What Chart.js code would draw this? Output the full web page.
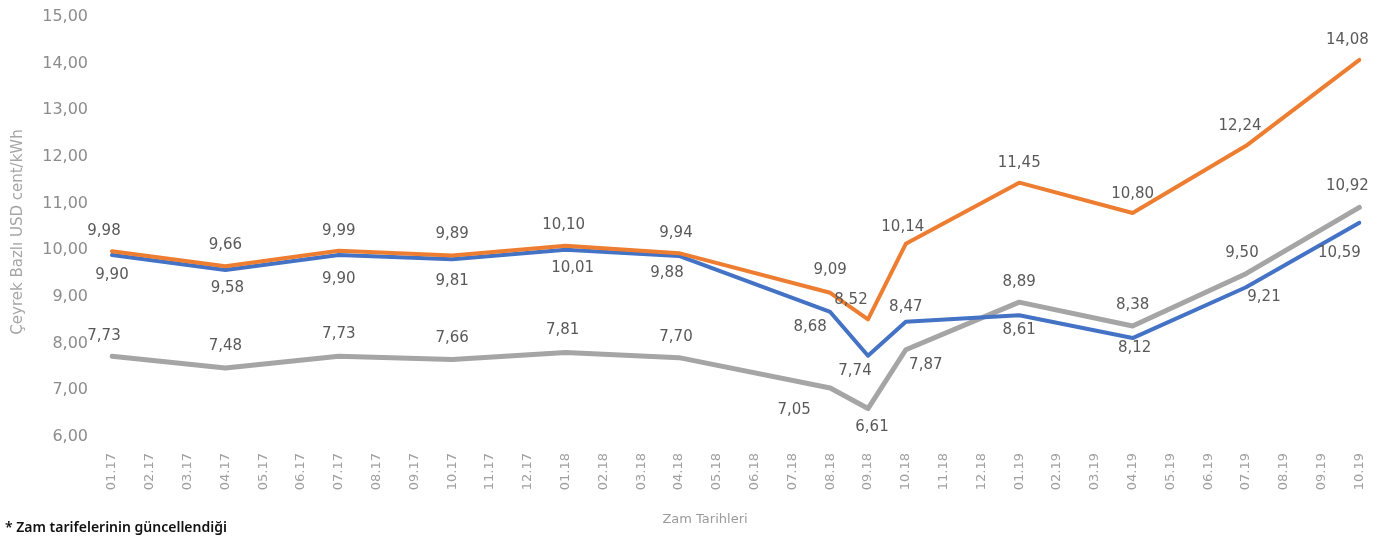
<!DOCTYPE html>
<html>
<head>
<meta charset="utf-8">
<script src="https://cdn.jsdelivr.net/npm/chart.js@4.4.1/dist/chart.umd.min.js"></script>
<style>
  body { margin: 0; background: #fff; }
</style>
</head>
<body>
<canvas id="tarife" width="1391" height="536"></canvas>
<script>
// aylar (x ekseni)
const aylar = [
  "01.17", "02.17", "03.17", "04.17", "05.17", "06.17", "07.17", "08.17", "09.17", "10.17", "11.17", "12.17",
  "01.18", "02.18", "03.18", "04.18", "05.18", "06.18", "07.18", "08.18", "09.18", "10.18", "11.18", "12.18",
  "01.19", "02.19", "03.19", "04.19", "05.19", "06.19", "07.19", "08.19", "09.19", "10.19",
];

// zam tarihleri - degerler sadece bu aylarda var
const zamTarihleri = ["01.17", "04.17", "07.17", "10.17", "01.18", "04.18", "08.18", "09.18", "10.18", "01.19", "04.19", "07.19", "10.19"];

// seriler (USD cent/kWh)
const turuncu = [9.98, 9.66, 9.99, 9.89, 10.10, 9.94, 9.09, 8.52, 10.14, 11.45, 10.80, 12.24, 14.08];
const mavi = [9.90, 9.58, 9.90, 9.81, 10.01, 9.88, 8.68, 7.74, 8.47, 8.61, 8.12, 9.21, 10.59];
const gri = [7.73, 7.48, 7.73, 7.66, 7.81, 7.70, 7.05, 6.61, 7.87, 8.89, 8.38, 9.50, 10.92];

// y ekseni
const yMin = 6;
const yMax = 15;

// etiketlerin noktaya gore kaymasi [dx, dy]
const turuncuEtiket = [[-8, -20], [0, -21], [0, -20], [0, -21], [-2, -21], [-3, -20], [0, -23], [-17, -19], [-3, -17], [0, -20], [0, -19], [-6, -20], [-12, -20]];
const maviEtiket = [[0, 20], [2, 18], [0, 24], [0, 22], [7, 18], [-12, 17], [-20, 15], [-13, 15], [0, -15], [0, 15], [2, 10], [18, 10], [-20, 30]];
const griEtiket = [[-8, -20], [0, -22], [0, -22], [0, -21], [-3, -22], [-3, -21], [-36, 22], [4, 19], [20, 15], [0, -20], [0, -21], [-4, -21], [-12, -21]];

// 34 aylik diziye yay, zam olmayan aylar bos
const ayaYay = (degerler) =>
  aylar.map((ay) => {
    const i = zamTarihleri.indexOf(ay);
    return i < 0 ? null : degerler[i];
  });

const virgullu = (v) => v.toFixed(2).replace(".", ",");

// deger etiketleri + eksen basliklari
const etiketEklentisi = {
  id: "etiketler",
  afterDatasetsDraw(chart) {
    const ctx = chart.ctx;
    ctx.save();
    ctx.font = "15px 'DejaVu Sans'";
    ctx.fillStyle = "#595959";
    ctx.textAlign = "center";
    ctx.textBaseline = "middle";
    chart.data.datasets.forEach((ds, di) => {
      const meta = chart.getDatasetMeta(di);
      let k = 0;
      meta.data.forEach((pt, i) => {
        const v = ds.data[i];
        if (v === null) return;
        const [dx, dy] = ds.etiketKonum[k++];
        ctx.fillText(virgullu(v), pt.x + dx, pt.y + dy);
      });
    });
    ctx.restore();
  },
  afterDraw(chart) {
    const ctx = chart.ctx;
    ctx.save();
    // y ekseni basligi
    ctx.fillStyle = "#a6a6a6";
    ctx.font = "15px 'DejaVu Sans'";
    ctx.textAlign = "center";
    ctx.textBaseline = "middle";
    ctx.translate(18, 232);
    ctx.rotate(-Math.PI / 2);
    ctx.fillText("Çeyrek Bazlı USD cent/kWh", 0, 0);
    ctx.restore();

    ctx.save();
    // x ekseni basligi
    ctx.fillStyle = "#9a9a9a";
    ctx.font = "13px 'DejaVu Sans'";
    ctx.textAlign = "center";
    ctx.textBaseline = "middle";
    ctx.fillText("Zam Tarihleri", 705, 520);
    // dipnot
    ctx.fillStyle = "#111";
    ctx.font = "600 14px 'Noto Sans'";
    ctx.textAlign = "left";
    ctx.fillText("* Zam tarifelerinin güncellendiği", 5, 528);
    ctx.restore();
  },
};

new Chart(document.getElementById("tarife"), {
  type: "line",
  plugins: [etiketEklentisi],
  data: {
    labels: aylar,
    datasets: [
      { data: ayaYay(turuncu), borderColor: "#ED7D31", borderWidth: 4, etiketKonum: turuncuEtiket },
      { data: ayaYay(mavi), borderColor: "#4472C4", borderWidth: 4, etiketKonum: maviEtiket },
      { data: ayaYay(gri), borderColor: "#A5A5A5", borderWidth: 5, etiketKonum: griEtiket },
    ],
  },
  options: {
    responsive: false,
    animation: false,
    spanGaps: true,
    layout: { padding: { top: 17, right: 29, left: 0, bottom: 0 } },
    elements: {
      point: { radius: 0, hoverRadius: 0 },
      line: { tension: 0, borderCapStyle: "round", borderJoinStyle: "round" },
    },
    plugins: { legend: { display: false }, tooltip: { enabled: false } },
    scales: {
      x: {
        offset: false,
        grid: { display: false, drawTicks: false },
        border: { display: false },
        ticks: {
          autoSkip: false,
          minRotation: 90,
          maxRotation: 90,
          padding: 16,
          color: "#a0a0a0",
          font: { family: "'DejaVu Sans'", size: 13 },
        },
        afterFit: (s) => { s.height = 99; },
      },
      y: {
        min: yMin,
        max: yMax,
        grid: { display: false, drawTicks: false },
        border: { display: false },
        ticks: {
          stepSize: 1,
          padding: 24,
          color: "#8c8c8c",
          font: { family: "'DejaVu Sans'", size: 16 },
          callback: (v) => virgullu(v),
        },
        afterFit: (s) => {
          s.width = 112;
          // tick padding ust/alt bosluga eklenmesin
          s.paddingTop = 0;
          s.paddingBottom = 0;
        },
      },
    },
  },
});
</script>
</body>
</html>
